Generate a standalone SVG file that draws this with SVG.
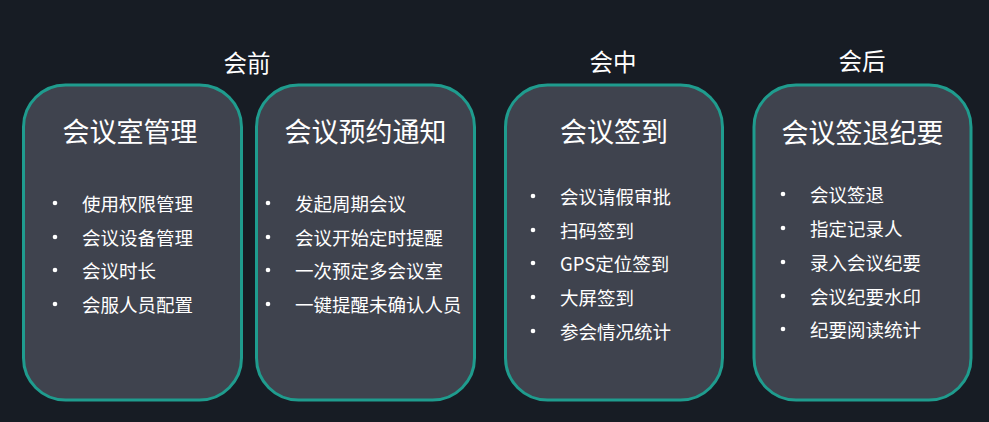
<svg xmlns="http://www.w3.org/2000/svg" width="989" height="422" viewBox="0 0 989 422">
<style>
.bg{fill:#171c24}
.box{fill:#3f434e;stroke:#1f9c8e;stroke-width:3}
text{font-family:"Noto Sans CJK SC","Liberation Sans",sans-serif;fill:#ffffff;dominant-baseline:central}
.sec{font-size:23.5px;text-anchor:middle}
.title{font-size:27px;text-anchor:middle}
.item{font-size:18.5px}
.dot{fill:#ffffff}
</style>
<rect class="bg" x="0" y="0" width="989" height="422"/>
<g id="labels">
<text class="sec" x="247" y="62">会前</text>
<text class="sec" x="613" y="61">会中</text>
<text class="sec" x="862" y="60">会后</text>
</g>
<g id="node1">
<rect class="box" x="23.5" y="85" width="218" height="315" rx="42"/>
<text class="title" x="130" y="130.5">会议室管理</text>
<circle class="dot" cx="55" cy="203" r="2.3"/><text class="item" x="82" y="203">使用权限管理</text>
<circle class="dot" cx="55" cy="237" r="2.3"/><text class="item" x="82" y="237">会议设备管理</text>
<circle class="dot" cx="55" cy="270" r="2.3"/><text class="item" x="82" y="270">会议时长</text>
<circle class="dot" cx="55" cy="304" r="2.3"/><text class="item" x="82" y="304">会服人员配置</text>
</g>
<g id="node2">
<rect class="box" x="256.5" y="85" width="218" height="315" rx="42"/>
<text class="title" x="365.5" y="130.5">会议预约通知</text>
<circle class="dot" cx="268" cy="203" r="2.3"/><text class="item" x="295" y="203">发起周期会议</text>
<circle class="dot" cx="268" cy="237" r="2.3"/><text class="item" x="295" y="237">会议开始定时提醒</text>
<circle class="dot" cx="268" cy="270" r="2.3"/><text class="item" x="295" y="270">一次预定多会议室</text>
<circle class="dot" cx="268" cy="304" r="2.3"/><text class="item" x="295" y="304">一键提醒未确认人员</text>
</g>
<g id="node3">
<rect class="box" x="505.5" y="85" width="217" height="315" rx="42"/>
<text class="title" x="614" y="130.5">会议签到</text>
<circle class="dot" cx="533" cy="196" r="2.3"/><text class="item" x="560" y="196">会议请假审批</text>
<circle class="dot" cx="533" cy="230" r="2.3"/><text class="item" x="560" y="230">扫码签到</text>
<circle class="dot" cx="533" cy="263" r="2.3"/><text class="item" x="560" y="263">GPS定位签到</text>
<circle class="dot" cx="533" cy="297" r="2.3"/><text class="item" x="560" y="297">大屏签到</text>
<circle class="dot" cx="533" cy="331" r="2.3"/><text class="item" x="560" y="331">参会情况统计</text>
</g>
<g id="node4">
<rect class="box" x="754" y="85" width="217" height="315" rx="42"/>
<text class="title" x="862.5" y="131">会议签退纪要</text>
<circle class="dot" cx="783" cy="194" r="2.3"/><text class="item" x="810" y="194">会议签退</text>
<circle class="dot" cx="783" cy="228" r="2.3"/><text class="item" x="810" y="228">指定记录人</text>
<circle class="dot" cx="783" cy="262" r="2.3"/><text class="item" x="810" y="262">录入会议纪要</text>
<circle class="dot" cx="783" cy="296" r="2.3"/><text class="item" x="810" y="296">会议纪要水印</text>
<circle class="dot" cx="783" cy="329" r="2.3"/><text class="item" x="810" y="329">纪要阅读统计</text>
</g>
<g id="connectors"></g>
</svg>
